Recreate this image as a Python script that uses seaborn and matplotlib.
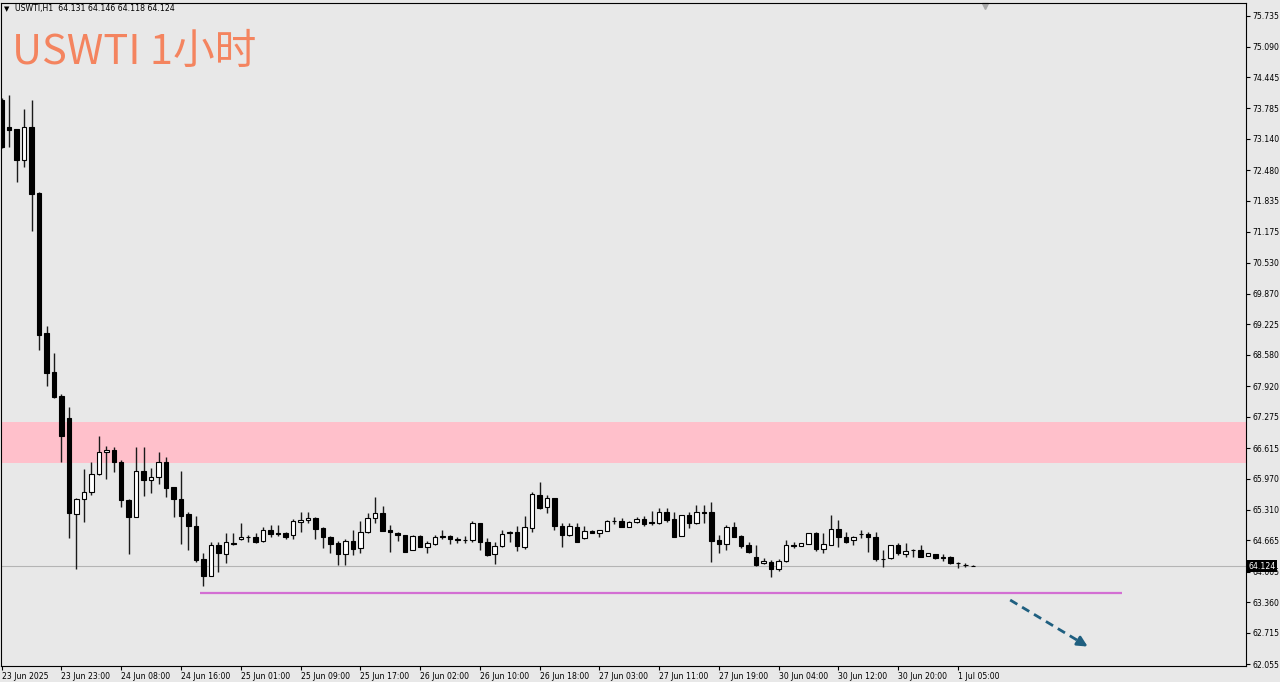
import numpy as np
import matplotlib.pyplot as plt
import matplotlib.transforms as mtransforms
import seaborn as sns

# USWTI H1 candles
opens = [73.962, 73.398, 73.343, 72.695, 73.398, 71.992, 69.049, 68.226, 67.713, 67.255,
         65.222, 65.538, 65.692, 66.066, 66.524, 66.573, 66.326, 65.517, 65.165, 66.136,
         65.939, 65.996, 66.313, 65.785, 65.538, 65.222, 64.968, 64.265, 63.919, 64.567,
         64.377, 64.603, 64.688, 64.736, 64.742, 64.658, 64.884, 64.814, 64.814, 64.778,
         65.059, 65.095, 65.144, 64.932, 64.742, 64.603, 64.377, 64.658, 64.498, 64.835,
         65.131, 65.236, 64.884, 64.827, 64.778, 64.462, 64.764, 64.531, 64.588, 64.757,
         64.757, 64.688, 64.673, 64.673, 65.025, 64.637, 64.377, 64.546, 64.814, 64.848,
         64.519, 64.920, 65.623, 65.376, 65.566, 64.975, 64.778, 64.954, 64.709, 64.863,
         64.827, 64.869, 65.065, 65.080, 64.954, 65.046, 65.110, 65.046, 65.038, 65.270,
         65.110, 64.757, 65.200, 65.025, 65.257, 65.270, 64.673, 64.588, 64.941, 64.757,
         64.567, 64.320, 64.181, 64.215, 64.054, 64.229, 64.567, 64.546, 64.588, 64.814,
         64.476, 64.567, 64.899, 64.730, 64.673, 64.789, 64.793, 64.742, 64.265, 64.286,
         64.567, 64.377, 64.455, 64.462, 64.335, 64.377, 64.320, 64.320, 64.194, 64.150,
         64.131]
highs = [74.004, 74.067, 73.349, 73.765, 73.962, 72.013, 69.191, 68.614, 67.755, 67.487,
         65.550, 66.172, 66.313, 66.875, 66.664, 66.643, 66.362, 65.530, 66.630, 66.630,
         66.186, 66.524, 66.419, 65.792, 66.136, 65.258, 65.186, 64.405, 64.624, 64.624,
         64.814, 64.814, 65.038, 64.778, 64.814, 64.954, 64.989, 64.989, 64.848, 65.110,
         65.270, 65.270, 65.150, 64.954, 64.750, 64.658, 64.688, 64.884, 65.080, 65.249,
         65.574, 65.397, 64.989, 64.848, 64.785, 64.770, 64.778, 64.658, 64.778, 64.884,
         64.778, 64.742, 64.757, 65.080, 65.030, 64.709, 64.637, 64.884, 64.863, 64.968,
         65.179, 65.692, 65.904, 65.623, 65.570, 65.025, 65.038, 65.038, 64.968, 64.884,
         64.890, 65.085, 65.152, 65.131, 65.065, 65.165, 65.179, 65.291, 65.342, 65.342,
         65.270, 65.210, 65.270, 65.412, 65.412, 65.481, 64.778, 64.989, 65.059, 64.778,
         64.637, 64.567, 64.286, 64.251, 64.265, 64.673, 64.637, 64.620, 64.830, 64.848,
         64.814, 65.200, 65.095, 64.848, 64.750, 64.884, 64.848, 64.848, 64.462, 64.570,
         64.616, 64.603, 64.476, 64.567, 64.400, 64.380, 64.377, 64.335, 64.215, 64.194,
         64.146]
lows = [72.948, 72.969, 72.231, 72.554, 71.196, 68.684, 67.924, 67.670, 66.326, 64.709,
        64.054, 65.053, 65.623, 66.045, 65.954, 66.115, 65.363, 64.377, 65.155, 65.602,
        65.671, 65.855, 65.574, 65.152, 64.588, 64.462, 64.215, 63.708, 63.910, 64.004,
        64.194, 64.567, 64.673, 64.637, 64.603, 64.637, 64.742, 64.757, 64.688, 64.688,
        64.848, 65.025, 64.688, 64.498, 64.392, 64.145, 64.145, 64.356, 64.392, 64.814,
        65.025, 64.860, 64.426, 64.658, 64.420, 64.455, 64.520, 64.392, 64.567, 64.688,
        64.588, 64.616, 64.616, 64.637, 64.462, 64.335, 64.166, 64.520, 64.637, 64.447,
        64.476, 64.848, 65.320, 65.236, 64.884, 64.520, 64.757, 64.630, 64.688, 64.814,
        64.742, 64.860, 65.010, 64.950, 64.950, 65.025, 64.975, 64.989, 65.010, 65.059,
        64.730, 64.750, 64.920, 65.010, 65.025, 64.215, 64.405, 64.462, 64.730, 64.498,
        64.405, 64.124, 64.166, 63.898, 64.025, 64.215, 64.498, 64.540, 64.580, 64.447,
        64.405, 64.560, 64.531, 64.603, 64.567, 64.709, 64.426, 64.236, 64.096, 64.280,
        64.356, 64.320, 64.320, 64.308, 64.330, 64.265, 64.236, 64.166, 64.075, 64.096,
        64.118]
closes = [72.969, 73.328, 72.695, 73.398, 71.971, 69.001, 68.205, 67.685, 66.868, 65.236,
          65.538, 65.692, 66.066, 66.537, 66.573, 66.313, 65.517, 65.165, 66.136, 65.939,
          65.996, 66.313, 65.764, 65.532, 65.186, 64.968, 64.251, 63.919, 64.567, 64.392,
          64.624, 64.595, 64.742, 64.730, 64.637, 64.884, 64.793, 64.799, 64.742, 65.074,
          65.095, 65.131, 64.899, 64.730, 64.588, 64.377, 64.658, 64.476, 64.848, 65.131,
          65.236, 64.869, 64.835, 64.778, 64.426, 64.764, 64.531, 64.603, 64.742, 64.730,
          64.688, 64.673, 64.680, 65.038, 64.637, 64.356, 64.546, 64.799, 64.848, 64.546,
          64.941, 65.644, 65.342, 65.566, 64.968, 64.778, 64.968, 64.637, 64.863, 64.827,
          64.884, 65.080, 65.070, 64.954, 65.059, 65.110, 65.010, 65.032, 65.270, 65.095,
          64.742, 65.200, 65.025, 65.270, 65.243, 64.652, 64.588, 64.941, 64.742, 64.546,
          64.426, 64.145, 64.229, 64.054, 64.229, 64.567, 64.546, 64.616, 64.827, 64.476,
          64.588, 64.899, 64.730, 64.637, 64.742, 64.793, 64.730, 64.265, 64.278, 64.567,
          64.392, 64.447, 64.462, 64.320, 64.392, 64.286, 64.286, 64.181, 64.181, 64.140,
          64.124]

time_labels = ['23 Jun 2025', '23 Jun 23:00', '24 Jun 08:00', '24 Jun 16:00', '25 Jun 01:00',
               '25 Jun 09:00', '25 Jun 17:00', '26 Jun 02:00', '26 Jun 10:00', '26 Jun 18:00',
               '27 Jun 03:00', '27 Jun 11:00', '27 Jun 19:00', '30 Jun 04:00', '30 Jun 12:00',
               '30 Jun 20:00', '1 Jul 05:00']
price_ticks = [75.735, 75.090, 74.445, 73.785, 73.140, 72.480, 71.835, 71.175, 70.530, 69.870,
               69.225, 68.580, 67.920, 67.275, 66.615, 65.970, 65.310, 64.665, 64.005, 63.360,
               62.715, 62.055]

resistance_zone = (66.298, 67.164)
support_level = 63.554
last_price = 64.124

sns.set_theme(style="white")
plt.rcParams['font.family'] = ['DejaVu Sans', 'Noto Sans CJK SC']

bg = '#e8e8e8'
fig = plt.figure(figsize=(12.8, 6.82), dpi=100, facecolor=bg)
ax = fig.add_axes([1 / 1280, 16 / 682, 1245 / 1280, 663 / 682])
ax.set_facecolor(bg)

x = np.arange(len(opens))
o = np.array(opens)
c = np.array(closes)
up = c >= o

# zone + lines
ax.axhspan(*resistance_zone, color='#ffc0cb', lw=0, zorder=0)
ax.axhline(last_price, color='#b4b4b4', lw=0.8, zorder=1)
ax.hlines(support_level, 26.5, 150, color='#d36fd3', lw=1.6, zorder=1)

# candles
ax.vlines(x, lows, highs, color='#1a1a1a', lw=1, zorder=2)
ax.bar(x[up], (c - o)[up], bottom=o[up], width=0.6, color='white',
       edgecolor='black', linewidth=0.8, zorder=3)
ax.bar(x[~up], (c - o)[~up], bottom=o[~up], width=0.6, color='black',
       edgecolor='black', linewidth=0.8, zorder=3)

# dashed arrow pointing down
arrow_col = '#1f5f80'
ax.plot([135, 144.8], [63.406, 62.48], ls='--', color=arrow_col, lw=2, dashes=(3, 2))
ax.annotate('', xy=(145.7, 62.393), xytext=(144.4, 62.517),
            arrowprops=dict(arrowstyle='-|>,head_length=0.5,head_width=0.25',
                            color=arrow_col, lw=2))

ax.set_xlim(-0.094, 166.57)
ax.set_ylim(62.013, 76.009)

ax.yaxis.tick_right()
ax.set_yticks(price_ticks)
ax.set_yticklabels([f'{v:.3f}' for v in price_ticks])
ax.set_xticks(range(0, len(opens), 8))
ax.set_xticklabels(time_labels, ha='left')
ax.tick_params(axis='x', bottom=True, direction='out', length=3, width=0.8,
               color='black', labelsize=5.6, pad=1.5, labelcolor='black')
ax.tick_params(axis='y', right=True, left=False, direction='out', length=3, width=0.8,
               color='black', labelsize=5.6, pad=1.5, labelcolor='black')
ax.grid(False)
for s in ax.spines.values():
    s.set_color('black')
    s.set_linewidth(0.8)

# current price label on the axis
trans = mtransforms.blended_transform_factory(ax.transAxes, ax.transData)
ax.text(1.002, last_price, f'{last_price:.3f}', transform=trans, color='white',
        fontsize=5.6, va='center', ha='left', clip_on=False, zorder=5,
        bbox=dict(facecolor='black', edgecolor='none', pad=1.2))

# chart shift marker
trans2 = mtransforms.blended_transform_factory(ax.transData, ax.transAxes)
ax.plot([131.6], [0.996], marker='v', ms=5, color='#a8a8a8', transform=trans2, clip_on=False)

# header + title
fig.text(4 / 1280, 1 - 9 / 682, '▼', fontsize=5, va='center', color='black')
fig.text(15 / 1280, 1 - 9 / 682, 'USWTI,H1  64.131 64.146 64.118 64.124',
         fontsize=5.6, va='center', color='black')
fig.text(12 / 1280, 1 - 64 / 682, 'USWTI 1小时', fontsize=30, color='#f4845f',
         family=['Noto Sans CJK SC', 'DejaVu Sans'], va='baseline')

fig.savefig('out.png', dpi=100, facecolor=bg)
